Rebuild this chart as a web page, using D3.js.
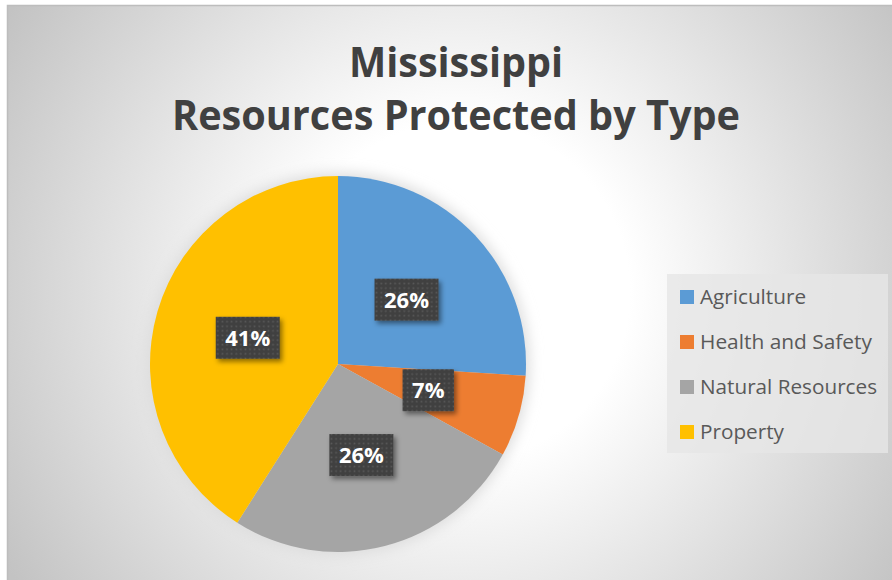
<!DOCTYPE html>
<html><head><meta charset="utf-8">
<script src="https://cdn.jsdelivr.net/npm/d3@7"></script>
<style>html,body{margin:0;padding:0;background:#fff;}svg{display:block;}</style>
</head><body>
<svg id="chart" width="892" height="580"></svg>
<script>
const categories = ["Agriculture", "Health and Safety", "Natural Resources", "Property"];
const values = [26, 7, 26, 41];
const colors = ["#5b9bd5", "#ed7d31", "#a5a5a5", "#ffc000"];
const titleLines = ["Mississippi", "Resources Protected by Type"];

const svg = d3.select("#chart");
const defs = svg.append("defs");

const grad = defs.append("radialGradient").attr("id", "bg")
  .attr("gradientUnits", "userSpaceOnUse").attr("cx", 460).attr("cy", 292).attr("r", 530);
grad.append("stop").attr("offset", 0).attr("stop-color", "#ffffff");
grad.append("stop").attr("offset", 0.32).attr("stop-color", "#ffffff");
grad.append("stop").attr("offset", 1).attr("stop-color", "#c3c3c3");

const pat = defs.append("pattern").attr("id", "dots").attr("patternUnits", "userSpaceOnUse")
  .attr("width", 4.6).attr("height", 4.6);
pat.append("rect").attr("width", 4.6).attr("height", 4.6).attr("fill", "#404040");
pat.append("rect").attr("x", 1.5).attr("y", 1.5).attr("width", 1.6).attr("height", 1.6).attr("fill", "#5a5a5a");

const blur = defs.append("filter").attr("id", "halo").attr("x", "-20%").attr("y", "-20%").attr("width", "140%").attr("height", "140%");
blur.append("feGaussianBlur").attr("stdDeviation", 7);

const sh = defs.append("filter").attr("id", "boxsh").attr("x", "-30%").attr("y", "-30%").attr("width", "160%").attr("height", "170%");
sh.append("feDropShadow").attr("dx", 2.5).attr("dy", 3).attr("stdDeviation", 2.5)
  .attr("flood-color", "#000").attr("flood-opacity", 0.45);

svg.append("rect").attr("x", 7).attr("y", 5).attr("width", 885).attr("height", 575)
  .attr("fill", "url(#bg)");
svg.append("path").attr("d", "M7.5,580V5.5H892").attr("fill", "none").attr("stroke", "#bdbdbd").attr("stroke-width", 1.5);

// Title
const titleY = [77, 130];
const titleW = [214, 568];
titleLines.forEach((t, i) => {
  svg.append("text").attr("x", 456).attr("y", titleY[i])
    .attr("text-anchor", "middle")
    .attr("font-family", "'Open Sans', sans-serif").attr("font-weight", 700)
    .attr("font-size", 41).attr("fill", "#404040")
    .attr("textLength", titleW[i]).attr("lengthAdjust", "spacingAndGlyphs")
    .text(t);
});

// Pie
const cx = 338, cy = 364, R = 188;
const g = svg.append("g").attr("transform", `translate(${cx},${cy})`);
g.append("circle").attr("r", R + 3).attr("fill", "#dcdcdc").attr("filter", "url(#halo)");

const data = categories.map((c, i) => ({ cat: c, value: values[i], color: colors[i] }));
const pie = d3.pie().sort(null).value(d => d.value);
const arc = d3.arc().innerRadius(0).outerRadius(R);
const arcs = pie(data);

g.selectAll("path.slice").data(arcs).enter().append("path")
  .attr("class", "slice").attr("d", arc).attr("fill", d => d.data.color);

const total = d3.sum(values);
const lab = g.selectAll("g.lab").data(arcs).enter().append("g").attr("class", "lab")
  .attr("transform", d => `translate(${arc.centroid(d)})`);
lab.each(function (d) {
  const sel = d3.select(this);
  const txt = Math.round(d.data.value / total * 100) + "%";
  const rect = sel.append("rect");
  const t = sel.append("text").attr("text-anchor", "middle").attr("y", 8)
    .attr("font-family", "'Open Sans', sans-serif").attr("font-weight", 700)
    .attr("font-size", 22).attr("fill", "#ffffff").text(txt);
  const w = t.node().getComputedTextLength() + 19;
  rect.attr("x", -w / 2).attr("y", -21).attr("width", w).attr("height", 42)
    .attr("fill", "url(#dots)").attr("filter", "url(#boxsh)");
});

// Legend
const lg = svg.append("g");
lg.append("rect").attr("x", 667).attr("y", 274).attr("width", 221).attr("height", 179)
  .attr("fill", "#e6e6e6").attr("fill-opacity", 0.8);
const legendW = [106, 172, 177, 84];
const ly = d3.scalePoint().domain(categories).range([297, 432]);
categories.forEach((c, i) => {
  lg.append("rect").attr("x", 680).attr("y", ly(c) - 7).attr("width", 14).attr("height", 14).attr("fill", colors[i]);
  lg.append("text").attr("x", 700).attr("y", ly(c) + 7)
    .attr("font-family", "'Open Sans', sans-serif").attr("font-size", 20).attr("fill", "#595959")
    .attr("textLength", legendW[i]).attr("lengthAdjust", "spacingAndGlyphs")
    .text(c);
});
</script>
</body></html>
